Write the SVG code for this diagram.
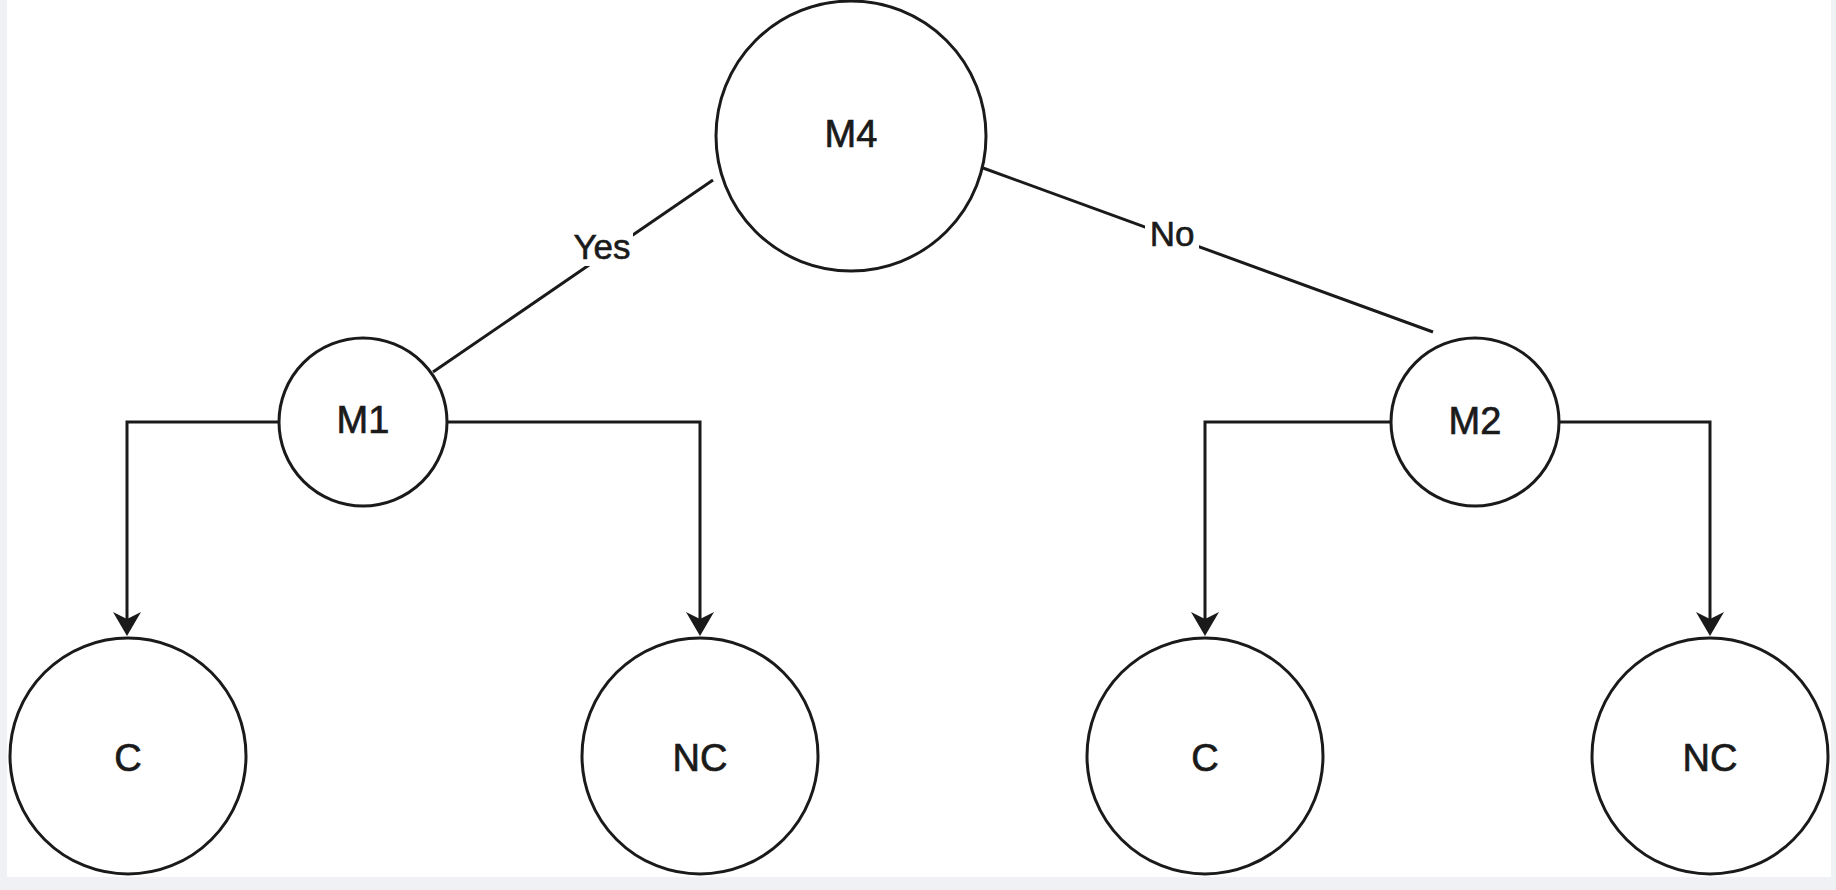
<svg xmlns="http://www.w3.org/2000/svg" width="1836" height="890" viewBox="0 0 1836 890">
  <style>
    .node { fill: #ffffff; stroke: #1a1a1a; stroke-width: 3; }
    .lbl { font-family: "Liberation Sans", Arial, sans-serif; font-size: 38px; fill: #1a1a1a; stroke: #1a1a1a; stroke-width: 0.7; text-anchor: middle; }
    .elbl { font-family: "Liberation Sans", Arial, sans-serif; font-size: 35px; fill: #1a1a1a; stroke: #1a1a1a; stroke-width: 0.6; text-anchor: middle; }
    .edge { fill: none; stroke: #1a1a1a; stroke-width: 3; }
  </style>
  <defs>
    <marker id="arrow" markerUnits="userSpaceOnUse" markerWidth="30" markerHeight="30" refX="-12" refY="0" orient="auto" overflow="visible">
      <path d="M0,0 L-24,-14 L-17,0 L-24,14 Z" fill="#1a1a1a"/>
    </marker>
  </defs>
  <rect x="0" y="0" width="1836" height="890" fill="#eff1f4"/>
  <rect x="7" y="0" width="1824" height="877" fill="#ffffff"/>

  <g id="connectors">
    <line class="edge" x1="713" y1="180" x2="433" y2="372"/>
    <line class="edge" x1="983" y1="168" x2="1433" y2="332"/>
    <path class="edge" d="M279,422 L127,422 L127,624" marker-end="url(#arrow)"/>
    <path class="edge" d="M447,422 L700,422 L700,624" marker-end="url(#arrow)"/>
    <path class="edge" d="M1390,422 L1205,422 L1205,624" marker-end="url(#arrow)"/>
    <path class="edge" d="M1560,422 L1710,422 L1710,624" marker-end="url(#arrow)"/>
    <g id="label-yes">
      <rect x="573" y="226" width="60" height="40" fill="#ffffff"/>
      <text class="elbl" x="602" y="259">Yes</text>
    </g>
    <g id="label-no">
      <rect x="1145" y="214" width="54" height="38" fill="#ffffff"/>
      <text class="elbl" x="1172" y="246">No</text>
    </g>
  </g>

  <g id="node-m4">
    <circle class="node" cx="851" cy="136" r="135"/>
    <text class="lbl" x="851" y="147">M4</text>
  </g>
  <g id="node-m1">
    <circle class="node" cx="363" cy="422" r="84"/>
    <text class="lbl" x="363" y="433">M1</text>
  </g>
  <g id="node-m2">
    <circle class="node" cx="1475" cy="422" r="84"/>
    <text class="lbl" x="1475" y="434">M2</text>
  </g>
  <g id="node-c1">
    <circle class="node" cx="128" cy="756" r="118"/>
    <text class="lbl" x="128" y="771">C</text>
  </g>
  <g id="node-nc1">
    <circle class="node" cx="700" cy="756" r="118"/>
    <text class="lbl" x="700" y="771">NC</text>
  </g>
  <g id="node-c2">
    <circle class="node" cx="1205" cy="756" r="118"/>
    <text class="lbl" x="1205" y="771">C</text>
  </g>
  <g id="node-nc2">
    <circle class="node" cx="1710" cy="756" r="118"/>
    <text class="lbl" x="1710" y="771">NC</text>
  </g>
</svg>
